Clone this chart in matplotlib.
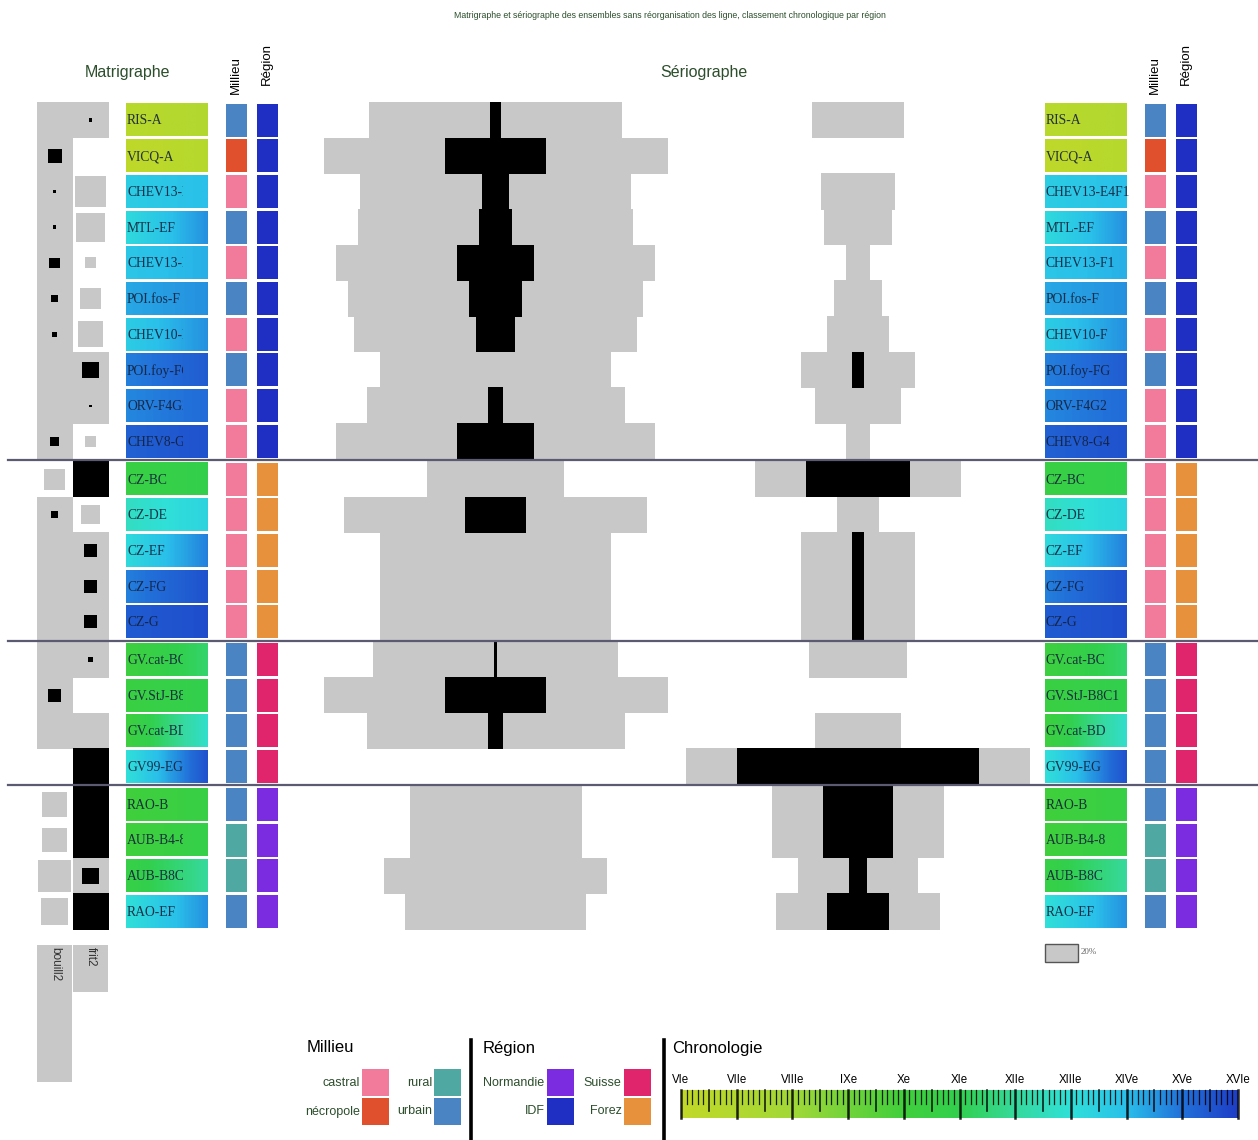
import numpy as np
import matplotlib.pyplot as plt
from matplotlib.colors import LinearSegmentedColormap
from matplotlib.patches import Rectangle

plt.rcParams['font.family'] = ['Liberation Sans', 'DejaVu Sans']

# ---- data ----
labels = ["RIS-A", "VICQ-A", "CHEV13-E4F1", "MTL-EF", "CHEV13-F1", "POI.fos-F",
          "CHEV10-F", "POI.foy-FG", "ORV-F4G2", "CHEV8-G4",
          "CZ-BC", "CZ-DE", "CZ-EF", "CZ-FG", "CZ-G",
          "GV.cat-BC", "GV.StJ-B8C1", "GV.cat-BD", "GV99-EG",
          "RAO-B", "AUB-B4-8", "AUB-B8C", "RAO-EF"]
groups = [0] * 10 + [1] * 5 + [2] * 4 + [3] * 4

milieu = ["urbain", "nécropole", "castral", "urbain", "castral", "urbain", "castral",
          "urbain", "castral", "castral",
          "castral", "castral", "castral", "castral", "castral",
          "urbain", "urbain", "urbain", "urbain",
          "urbain", "rural", "rural", "urbain"]
region = ["IDF"] * 10 + ["Forez"] * 5 + ["Suisse"] * 4 + ["Normandie"] * 4

# dating of each ensemble, in centuries (start, end)
chrono_start = [6.6, 6.2, 13.6, 13.2, 13.8, 14.3, 13.6, 14.8, 14.7, 15.3,
                10.5, 12.6, 13.2, 14.8, 15.4,
                10.2, 10.4, 10.2, 13.0,
                10.0, 10.0, 10.6, 13.0]
chrono_end = [7.0, 6.8, 14.0, 14.6, 14.2, 14.6, 14.6, 15.4, 15.1, 15.6,
              10.9, 13.4, 14.8, 15.6, 15.7,
              11.4, 11.0, 12.8, 15.6,
              10.6, 10.8, 12.0, 14.6]

# sériographe : % per ensemble
bouill2 = [73.5, 100, 78.5, 80, 93, 86, 82, 67, 75, 93,
           40, 88, 67, 67, 67,
           71.5, 100, 75, 0,
           50, 50, 65, 52.5]
frit2 = [26.5, 0, 21.5, 20, 7, 14, 18, 33, 25, 7,
         60, 12, 33, 33, 33,
         28.5, 0, 25, 100,
         50, 50, 35, 47.5]

# matrigraphe : size of grey and black squares (fraction of cell)
mat_bouill2_grey = [1, 1, 1, 1, 1, 1, 1, 1, 1, 1,
                    0.6, 1, 1, 1, 1,
                    1, 1, 1, 0,
                    0.7, 0.7, 0.92, 0.77]
mat_bouill2_black = [0, 0.4, 0.09, 0.11, 0.29, 0.2, 0.14, 0, 0, 0.26,
                     0, 0.2, 0, 0, 0,
                     0, 0.37, 0, 0,
                     0, 0, 0, 0]
mat_frit2_grey = [1, 0, 0.9, 0.83, 0.31, 0.6, 0.74, 1, 1, 0.31,
                  1, 0.54, 1, 1, 1,
                  1, 0, 1, 1,
                  1, 1, 1, 1]
mat_frit2_black = [0.09, 0, 0, 0, 0, 0, 0, 0.46, 0.06, 0,
                   1, 0, 0.37, 0.37, 0.37,
                   0.14, 0, 0, 1,
                   1, 1, 0.46, 1]

milieu_colors = {"castral": "#f27a9a", "nécropole": "#e0502c",
                 "rural": "#4fa9a2", "urbain": "#4a84c2"}
region_colors = {"Normandie": "#7b2be0", "IDF": "#1f2fc4",
                 "Suisse": "#e0256c", "Forez": "#e8913c"}
centuries = ["VIe", "VIIe", "VIIIe", "IXe", "Xe", "XIe", "XIIe",
             "XIIIe", "XIVe", "XVe", "XVIe"]

chrono_cmap = LinearSegmentedColormap.from_list("chrono", [
    (0.0, "#c2d828"), (0.2, "#a2d838"), (0.4, "#40cf3c"), (0.5, "#32d04e"),
    (0.6, "#36d99c"), (0.7, "#30e0d8"), (0.8, "#2ac0ea"), (0.9, "#2272da"),
    (1.0, "#1e3ec6")])

GREY = "#c8c8c8"
TXT_GREEN = "#2c4e2c"

# ---- layout (pixels) ----
fig = plt.figure(figsize=(12.58, 11.40), dpi=100)
ax = fig.add_axes([0, 0, 1, 1])
W, H = 1258, 1140

n = len(labels)
pitch = 35.7
row_y = np.array([120 + pitch * i + 2 * g for i, g in enumerate(groups)])
cell_h = 33


def chrono_pos(c):
    return (c - 6.0) / 10.0


# title and headers
ax.text(670, 16, "Matrigraphe et sériographe des ensembles sans réorganisation des ligne, "
        "classement chronologique par région", ha="center", va="center",
        fontsize=6.3, color=TXT_GREEN)
ax.text(127, 72, "Matrigraphe", ha="center", va="center", fontsize=11.5, color=TXT_GREEN)
ax.text(704, 73, "Sériographe", ha="center", va="center", fontsize=11.5, color=TXT_GREEN)
for xm, xr in [(236, 267), (1155, 1186)]:
    ax.text(xm, 94, "Millieu", rotation=90, ha="center", va="bottom", fontsize=9.5)
    ax.text(xr, 85, "Région", rotation=90, ha="center", va="bottom", fontsize=9.5)

# matrigraphe
mat_cols = [(54.5, mat_bouill2_grey, mat_bouill2_black),
            (90.5, mat_frit2_grey, mat_frit2_black)]
for cx, grey, black in mat_cols:
    for y, gs, bs in zip(row_y, grey, black):
        if gs >= 1:
            ax.bar(cx, pitch + 0.6, width=36, bottom=y - (pitch + 0.6) / 2,
                   color=GREY, linewidth=0)
        elif gs > 0:
            s = gs * 35
            ax.bar(cx, s, width=s, bottom=y - s / 2, color=GREY, linewidth=0)
        if bs > 0:
            s = bs * 35 if bs < 1 else 36
            h = s if bs < 1 else pitch + 0.6
            ax.bar(cx, h, width=s, bottom=y - h / 2, color="black", linewidth=0)

# variable names under the matrigraphe
ax.bar(54.5, 137, width=35, bottom=945, color=GREY, linewidth=0)
ax.bar(90.5, 47, width=35, bottom=945, color=GREY, linewidth=0)
ax.text(55, 947, "bouill2", rotation=270, ha="center", va="top", fontsize=8.5, color="#333333")
ax.text(91, 947, "frit2", rotation=270, ha="center", va="top", fontsize=8.5, color="#333333")


# label cells with chronology gradient + milieu / région
def draw_block(x0, x1, xm, xr, clip_x=None):
    for i in range(n):
        y = row_y[i]
        grad = np.linspace(chrono_pos(chrono_start[i]), chrono_pos(chrono_end[i]), 64)[None, :]
        ax.imshow(grad, cmap=chrono_cmap, vmin=0, vmax=1, aspect="auto",
                  extent=[x0, x1, y + cell_h / 2, y - cell_h / 2], interpolation="bilinear")
        t = ax.text(x0 + 1, y + 1, labels[i], ha="left", va="center", fontsize=9.8,
                    family="Liberation Serif", color="#14203a", alpha=0.9)
        if clip_x is not None:
            t.set_clip_path(Rectangle((x0, y - cell_h / 2), clip_x - x0, cell_h,
                                      transform=ax.transData))
            t.set_clip_on(True)
    ax.bar([xm] * n, [cell_h] * n, width=21, bottom=row_y - cell_h / 2,
           color=[milieu_colors[m] for m in milieu], linewidth=0)
    ax.bar([xr] * n, [cell_h] * n, width=21, bottom=row_y - cell_h / 2,
           color=[region_colors[r] for r in region], linewidth=0)


draw_block(126, 208, 236, 267.5, clip_x=183)
draw_block(1045, 1127, 1155.5, 1186.5)

# sériographe
px_per_pct = 1.72
for center, vals in [(495.5, bouill2), (858, frit2)]:
    v = np.array(vals, dtype=float)
    excess = np.clip(v - v.mean(), 0, None)
    ax.barh(row_y, 2 * px_per_pct * v, left=center - px_per_pct * v,
            height=pitch + 0.6, color=GREY, linewidth=0)
    ax.barh(row_y, 2 * px_per_pct * excess, left=center - px_per_pct * excess,
            height=pitch + 0.6, color="black", linewidth=0)

# group separators
for g in range(1, 4):
    i = groups.index(g)
    ys = (row_y[i - 1] + row_y[i]) / 2
    ax.plot([8, W], [ys, ys], color="#5a5a72", lw=1.6)

# 20% scale
ax.bar(1061.5, 18, width=33, bottom=944, color=GREY, edgecolor="#555555", linewidth=1)
ax.text(1081, 952, "20%", ha="left", va="center", fontsize=6.5,
        family="Liberation Serif", color="#666666")

# ---- legends ----
ax.text(307, 1048, "Millieu", ha="left", va="center", fontsize=12)
ax.text(483, 1048, "Région", ha="left", va="center", fontsize=12)
ax.text(672, 1048, "Chronologie", ha="left", va="center", fontsize=12)
for xl in [470.5, 663.5]:
    ax.plot([xl, xl], [1040, 1140], color="black", lw=2.6)

leg_milieu = [("castral", 0, 0), ("rural", 1, 0), ("nécropole", 0, 1), ("urbain", 1, 1)]
for name, cx, cy in leg_milieu:
    sx = 362 + cx * 72
    sy = 1069 + cy * 29
    ax.bar(sx + 13.5, 27, width=27, bottom=sy, color=milieu_colors[name], linewidth=0)
    ax.text(sx - 2, sy + 13.5, name, ha="right", va="center", fontsize=9, color=TXT_GREEN)

leg_region = [("Normandie", 0, 0), ("Suisse", 1, 0), ("IDF", 0, 1), ("Forez", 1, 1)]
for name, cx, cy in leg_region:
    sx = 546.5 + cx * 77
    sy = 1069 + cy * 29
    ax.bar(sx + 13.5, 27, width=27, bottom=sy, color=region_colors[name], linewidth=0)
    ax.text(sx - 2, sy + 13.5, name, ha="right", va="center", fontsize=9, color=TXT_GREEN)

# chronology scale
sx0, sx1 = 681, 1238
sy0, sy1 = 1090, 1118
ax.imshow(np.linspace(0, 1, 256)[None, :], cmap=chrono_cmap, aspect="auto",
          extent=[sx0, sx1, sy1, sy0], interpolation="bilinear")
for k in range(101):
    x = sx0 + (sx1 - sx0) * k / 100
    if k % 10 == 0:
        frac, lw = 1.0, 1.8
    elif k % 5 == 0:
        frac, lw = 0.75, 1.2
    else:
        frac, lw = 0.5, 0.9
    ax.plot([x, x], [sy0, sy0 + frac * (sy1 - sy0)], color="black", lw=lw, alpha=0.85)
for k, c in enumerate(centuries):
    x = sx0 + (sx1 - sx0) * k / 10
    ax.text(x, 1080, c, ha="center", va="center", fontsize=8.3)

ax.set_xlim(0, W)
ax.set_ylim(H, 0)
ax.axis("off")
fig.savefig("out.png", dpi=100)
